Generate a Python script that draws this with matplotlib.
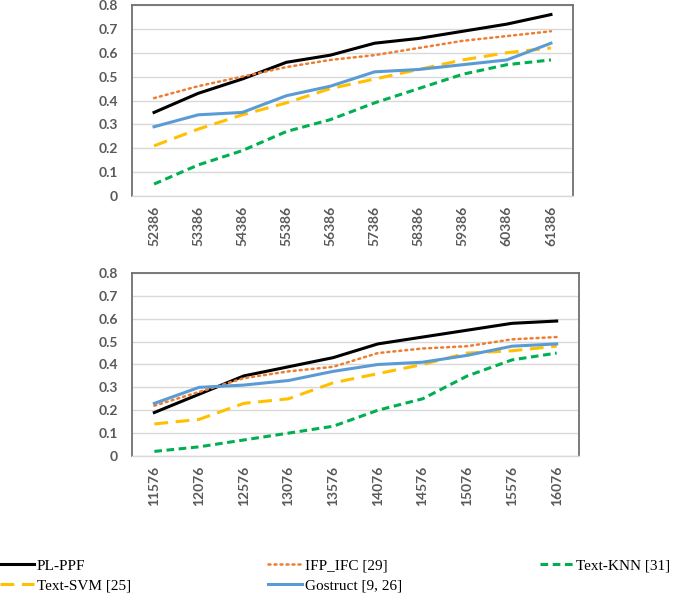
import matplotlib.pyplot as plt
import numpy as np

## TOP PANEL DATA
top_labels = ['52386', '53386', '54386', '55386', '56386', '57386', '58386', '59386', '60386', '61386']
top_plppf    = [0.35, 0.43, 0.49, 0.56, 0.59, 0.64, 0.66, 0.69, 0.72, 0.76]
top_ifp      = [0.41, 0.46, 0.50, 0.54, 0.57, 0.59, 0.62, 0.65, 0.67, 0.69]
top_svm      = [0.21, 0.28, 0.34, 0.39, 0.45, 0.49, 0.53, 0.57, 0.60, 0.62]
top_gostruct = [0.29, 0.34, 0.35, 0.42, 0.46, 0.52, 0.53, 0.55, 0.57, 0.64]
top_knn      = [0.05, 0.13, 0.19, 0.27, 0.32, 0.39, 0.45, 0.51, 0.55, 0.57]

## BOTTOM PANEL DATA
bot_labels = ['11576', '12076', '12576', '13076', '13576', '14076', '14576', '15076', '15576', '16076']
bot_plppf    = [0.19, 0.27, 0.35, 0.39, 0.43, 0.49, 0.52, 0.55, 0.58, 0.59]
bot_ifp      = [0.22, 0.28, 0.34, 0.37, 0.39, 0.45, 0.47, 0.48, 0.51, 0.52]
bot_svm      = [0.14, 0.16, 0.23, 0.25, 0.32, 0.36, 0.40, 0.45, 0.46, 0.48]
bot_gostruct = [0.23, 0.30, 0.31, 0.33, 0.37, 0.40, 0.41, 0.44, 0.48, 0.49]
bot_knn      = [0.02, 0.04, 0.07, 0.10, 0.13, 0.20, 0.25, 0.35, 0.42, 0.45]

names = ['PL-PPF', 'IFP_IFC [29]', 'Text-SVM [25]', 'Gostruct [9, 26]', 'Text-KNN [31]']
y_ticks = [0, 0.1, 0.2, 0.3, 0.4, 0.5, 0.6, 0.7, 0.8]

styles = {
    'PL-PPF':           dict(color='black', lw=2.2, ls='-'),
    'IFP_IFC [29]':     dict(color='#ED7D31', lw=1.8, ls=(0, (0.8, 1.6)), dash_capstyle='round'),
    'Text-SVM [25]':    dict(color='#FFC000', lw=2.2, ls=(0, (4.5, 2.5))),
    'Gostruct [9, 26]': dict(color='#5B9BD5', lw=2.2, ls='-'),
    'Text-KNN [31]':    dict(color='#00B050', lw=2.2, ls=(0, (2.5, 1.5))),
}

fig = plt.figure(figsize=(6.85, 5.97), dpi=100)
ax_top = fig.add_axes([0.1927, 0.6717, 0.8365 - 0.1927, 0.9916 - 0.6717])
ax_bot = fig.add_axes([0.1927, 0.2362, 0.8453 - 0.1927, 0.5427 - 0.2362])

tick_font = dict(family='Lato', weight='bold', size=10)

def draw_panel(ax, labels, series):
    x = np.arange(len(labels))
    handles = []
    for name, vals in zip(names, series):
        h, = ax.plot(x, vals, label=name, zorder=3, **styles[name])
        handles.append(h)
    ax.set_xlim(-0.5, len(labels) - 0.5)
    ax.set_ylim(0, 0.8)
    ax.set_yticks(y_ticks)
    ax.set_yticklabels([f'{t:g}' for t in y_ticks], color='#595959', **tick_font)
    ax.set_xticks(x)
    ax.set_xticklabels(labels, rotation=90, color='#595959', **tick_font)
    ax.tick_params(length=0)
    ax.tick_params(axis='y', pad=10)
    ax.tick_params(axis='x', pad=7)
    ax.grid(axis='y', color='#d9d9d9', lw=1.0, zorder=0)
    for side in ['left', 'top', 'right']:
        ax.spines[side].set_color('#707070')
        ax.spines[side].set_linewidth(1.3)
    ax.spines['bottom'].set_color('#d9d9d9')
    ax.spines['bottom'].set_linewidth(1.0)
    return handles

h = draw_panel(ax_top, top_labels, [top_plppf, top_ifp, top_svm, top_gostruct, top_knn])
draw_panel(ax_bot, bot_labels, [bot_plppf, bot_ifp, bot_svm, bot_gostruct, bot_knn])

# legend order: PL-PPF, Text-SVM | IFP_IFC, Gostruct | Text-KNN
order = [0, 2, 1, 3, 4]
fig.legend([h[i] for i in order], [names[i] for i in order],
           loc='upper left', bbox_to_anchor=(0.0, 1 - 559 / 597), ncol=3,
           frameon=False, borderpad=0, borderaxespad=0,
           handlelength=2.2, handletextpad=0.2, columnspacing=9.0,
           labelspacing=0.4,
           prop=dict(family='Liberation Serif', size=11))

plt.savefig('out.png', dpi=100)
